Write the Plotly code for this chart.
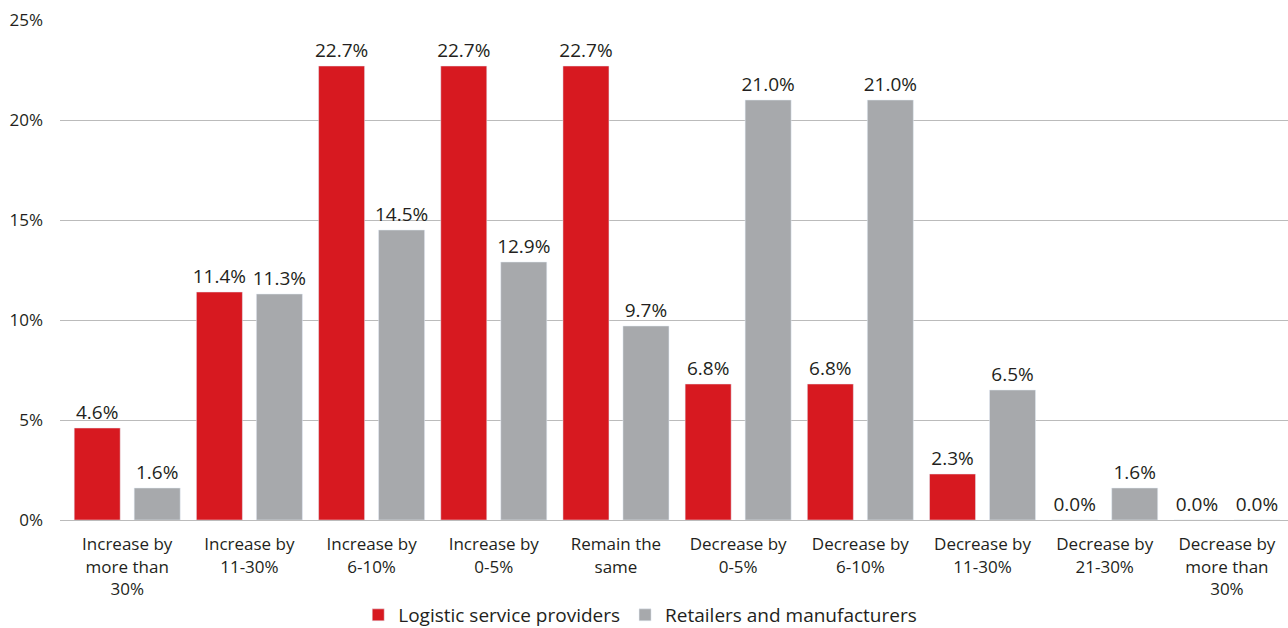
import plotly.graph_objects as go

categories = ["Increase by<br>more than<br>30%", "Increase by<br>11-30%", "Increase by<br>6-10%",
              "Increase by<br>0-5%", "Remain the<br>same", "Decrease by<br>0-5%", "Decrease by<br>6-10%",
              "Decrease by<br>11-30%", "Decrease by<br>21-30%", "Decrease by<br>more than<br>30%"]
logistic = [4.6, 11.4, 22.7, 22.7, 22.7, 6.8, 6.8, 2.3, 0.0, 0.0]
retailers = [1.6, 11.3, 14.5, 12.9, 9.7, 21.0, 21.0, 6.5, 1.6, 0.0]
tick_vals = [0, 5, 10, 15, 20, 25]
tick_text = ["0%", "5%", "10%", "15%", "20%", "25%"]

FONT = "Open Sans"
TXT = "#231F20"

fig = go.Figure()
fig.add_trace(go.Bar(x=categories, y=logistic, name="Logistic service providers",
                     marker_color="#D71920", text=[f"{v:.1f}%" for v in logistic],
                     textposition="outside", textfont=dict(size=19, color=TXT, family=FONT),
                     cliponaxis=False))
fig.add_trace(go.Bar(x=categories, y=retailers, name="Retailers and manufacturers",
                     marker_color="#A7A9AC", text=[f"{v:.1f}%" for v in retailers],
                     textposition="outside", textfont=dict(size=19, color=TXT, family=FONT),
                     cliponaxis=False))

fig.update_layout(
    width=1288, height=628,
    margin=dict(l=60, r=0, t=20, b=108, autoexpand=False),
    plot_bgcolor="white", paper_bgcolor="white",
    barmode="group", bargap=0.018, bargroupgap=0.233,
    font=dict(family=FONT, size=17, color=TXT),
    showlegend=True,
    legend=dict(orientation="h", x=0.4725, xanchor="center", y=-0.19, yanchor="middle",
                font=dict(size=19, color=TXT, family=FONT), itemwidth=30),
    yaxis=dict(range=[0, 25], tickmode="array", tickvals=tick_vals, ticktext=tick_text,
               showgrid=True, gridcolor="#BBBBBB", gridwidth=1, zeroline=False, showline=False,
               ticks="", ticklen=0, ticklabelstandoff=16, tickfont=dict(size=17, color=TXT)),
    xaxis=dict(range=[-0.55, 9.5], showline=True, linecolor="#BBBBBB", linewidth=1, ticks="",
               ticklabelstandoff=9, tickfont=dict(size=17, color=TXT), tickangle=0),
    uniformtext=dict(minsize=19, mode="show"),
)

fig.write_html("out.html", config={"displayModeBar": False},
               post_script="document.body.style.margin='0';document.body.style.overflow='hidden';")
